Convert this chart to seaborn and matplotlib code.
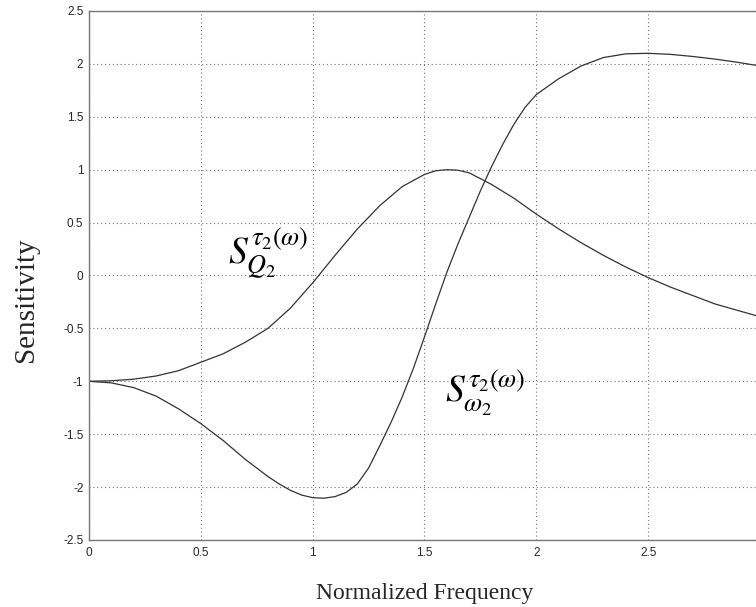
"""
plot.py
-------
Sensitivity of group delay vs normalized frequency.
"""

import matplotlib
matplotlib.use("Agg")
import matplotlib.pyplot as plt
import seaborn as sns
import pandas as pd

freq_q = [0.0, 0.1, 0.2, 0.3, 0.4, 0.5, 0.6, 0.7, 0.8, 0.9, 1.0, 1.1, 1.2, 1.3, 1.4,
          1.5, 1.55, 1.6, 1.65, 1.7, 1.8, 1.9, 2.0, 2.1, 2.2, 2.3, 2.4, 2.5, 2.6,
          2.7, 2.8, 2.9, 3.0]
sens_q = [-1.0, -0.995, -0.98, -0.95, -0.90, -0.82, -0.74, -0.63, -0.50, -0.31, -0.07,
          0.19, 0.44, 0.66, 0.84, 0.955, 0.99, 1.0, 0.995, 0.97, 0.86, 0.73, 0.58,
          0.44, 0.31, 0.19, 0.08, -0.02, -0.11, -0.19, -0.27, -0.33, -0.39]

freq_w = [0.0, 0.1, 0.2, 0.3, 0.4, 0.5, 0.6, 0.7, 0.8, 0.85, 0.9, 0.95, 1.0, 1.05,
          1.1, 1.15, 1.2, 1.25, 1.3, 1.35, 1.4, 1.45, 1.5, 1.55, 1.6, 1.65, 1.7,
          1.75, 1.8, 1.85, 1.9, 1.95, 2.0, 2.1, 2.2, 2.3, 2.4, 2.5, 2.6, 2.7, 2.8,
          2.9, 3.0]
sens_w = [-1.0, -1.015, -1.06, -1.14, -1.26, -1.40, -1.56, -1.74, -1.90, -1.97,
          -2.03, -2.075, -2.10, -2.105, -2.09, -2.05, -1.97, -1.82, -1.61, -1.39,
          -1.15, -0.88, -0.58, -0.27, 0.03, 0.30, 0.55, 0.80, 1.03, 1.24, 1.43,
          1.59, 1.71, 1.86, 1.98, 2.06, 2.095, 2.10, 2.09, 2.07, 2.045, 2.015, 1.98]

x_ticks = [0, 0.5, 1, 1.5, 2, 2.5, 3]
x_tick_labels = ["0", "0.5", "1", "1.5", "2", "2.5", ""]
y_ticks = [-2.5, -2, -1.5, -1, -0.5, 0, 0.5, 1, 1.5, 2, 2.5]

sns.set_style("white")
plt.rcParams["font.family"] = ["Liberation Sans", "DejaVu Sans"]
plt.rcParams["mathtext.fontset"] = "stix"

df_q = pd.DataFrame({"freq": freq_q, "sens": sens_q})
df_w = pd.DataFrame({"freq": freq_w, "sens": sens_w})

fig = plt.figure(figsize=(7.56, 6.07), dpi=100)
ax = fig.add_axes([0.1177, 0.1104, 0.8876, 0.8715])

sns.lineplot(data=df_q, x="freq", y="sens", ax=ax, color="#333333", linewidth=0.9)
sns.lineplot(data=df_w, x="freq", y="sens", ax=ax, color="#333333", linewidth=0.9)

ax.set_xlim(0, 3)
ax.set_ylim(-2.5, 2.5)
ax.set_xticks(x_ticks)
ax.set_yticks(y_ticks)
ax.set_xticklabels(x_tick_labels)
ax.set_yticklabels([f"{t:g}" for t in y_ticks])
ax.tick_params(direction="in", length=4, labelsize=8.5, color="#555555")
ax.tick_params(axis="x", pad=5)
ax.tick_params(axis="y", pad=4)
ax.grid(True, linestyle=(0, (1, 2.5)), color="#777777", linewidth=0.8)
for sp in ax.spines.values():
    sp.set_color("#777777")
    sp.set_linewidth(1.0)

ax.set_xlabel("Normalized Frequency", family="Liberation Serif", fontsize=17)
ax.set_ylabel("Sensitivity", family="Liberation Serif", fontsize=21)
ax.xaxis.set_label_coords(0.5, -0.082)
ax.yaxis.set_label_coords(-0.074, 0.454)

ax.text(0.62, 0.11, r"$S_{Q_2}^{\tau_2(\omega)}$", fontsize=27, color="black",
        va="baseline")
ax.text(1.59, -1.20, r"$S_{\omega_2}^{\tau_2(\omega)}$", fontsize=27, color="black",
        va="baseline")

fig.savefig("out.png", dpi=100)
